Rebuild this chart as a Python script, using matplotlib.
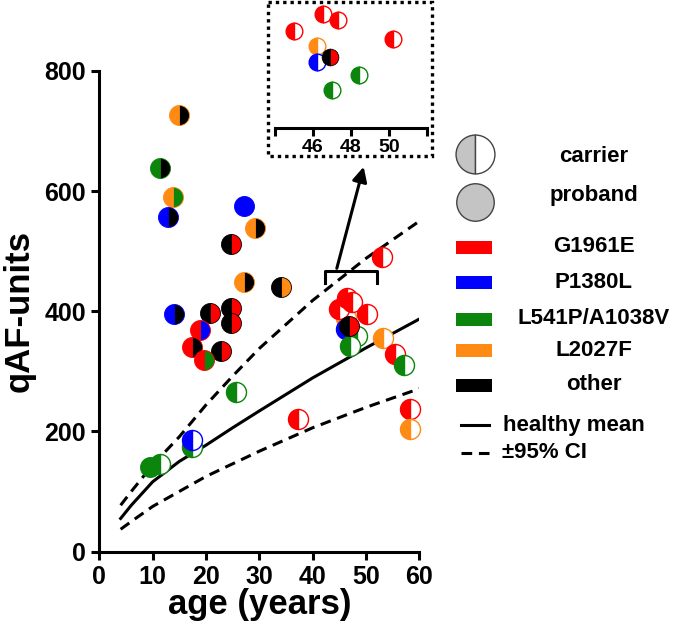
import matplotlib
matplotlib.use('Agg')
import matplotlib.pyplot as plt
from matplotlib.patches import Rectangle

plt.rcParams['font.family'] = ['Liberation Sans', 'DejaVu Sans']
plt.rcParams['font.weight'] = 'bold'

# mutation colours
mutations = ['G1961E', 'P1380L', 'L541P/A1038V', 'L2027F', 'other']
mut_colors = ['#ff0000', '#0000ff', '#0b850b', '#ff8a14', '#000000']
cmap = dict(zip(mutations, mut_colors))

# patients: left half / right half (None = carrier, white right half)
pt_age = [15.0, 11.4, 13.8, 12.8, 27.2, 29.2, 24.6, 27.1, 34.1, 14.0,
          20.8, 24.7, 24.7, 18.8, 17.3, 22.9, 19.7, 9.5, 11.4, 17.3,
          17.3, 25.6, 37.3, 53.0, 46.2, 45.0, 46.5, 47.3, 50.2, 46.2,
          48.4, 47.0, 46.9, 53.1, 55.5, 57.2, 58.2, 58.3]
pt_qaf = [727, 638, 590, 557, 576, 538, 512, 448, 441, 395,
          397, 405, 380, 368, 341, 334, 319, 141, 145, 174,
          186, 265, 220, 490, 388, 404, 422, 415, 395, 371,
          358, 342, 376, 355, 329, 311, 237, 204]
pt_left = ['L2027F', 'L541P/A1038V', 'L2027F', 'P1380L', 'P1380L', 'L2027F', 'other', 'L2027F', 'other', 'P1380L',
           'other', 'other', 'other', 'G1961E', 'G1961E', 'other', 'G1961E', 'L541P/A1038V', 'L541P/A1038V', 'L541P/A1038V',
           'P1380L', 'L541P/A1038V', 'G1961E', 'G1961E', 'L2027F', 'G1961E', 'G1961E', 'G1961E', 'G1961E', 'P1380L',
           'L541P/A1038V', 'L541P/A1038V', 'other', 'L2027F', 'G1961E', 'L541P/A1038V', 'G1961E', 'L2027F']
pt_right = ['other', 'other', 'L541P/A1038V', 'other', 'P1380L', 'other', 'G1961E', 'other', 'L2027F', 'other',
            'G1961E', 'G1961E', 'G1961E', 'P1380L', 'other', 'G1961E', 'L541P/A1038V', 'L541P/A1038V', None, None,
            None, None, None, None, None, None, None, None, None, None,
            None, None, 'G1961E', None, None, None, None, None]

# healthy reference curves
ref_age = [4, 6, 10, 15, 20, 25, 30, 40, 50, 60]
ref_mean = [55, 77, 116, 150, 177, 206, 234, 289, 339, 387]
ref_upper = [77, 100, 144, 191, 244, 292, 338, 418, 488, 550]
ref_lower = [37, 50, 75, 100, 125, 146, 167, 206, 240, 271]

zoom_range = (44, 52)
bracket_range = (42.3, 52.1)

W, H = 674, 635
fig = plt.figure(figsize=(W / 100, H / 100), dpi=100)


def draw_points(ax, ms, mask=None):
    for i in range(len(pt_age)):
        if mask is not None and not mask(pt_age[i]):
            continue
        left = cmap[pt_left[i]]
        if pt_right[i] is None:
            right, edge, lw = 'white', left, 1.0
        else:
            right, edge, lw = cmap[pt_right[i]], left, 0.6
        ax.plot(pt_age[i], pt_qaf[i], marker='o', ms=ms, fillstyle='left',
                markerfacecolor=left, markerfacecoloralt=right,
                markeredgecolor=edge, markeredgewidth=lw,
                linestyle='none', clip_on=False, zorder=3)


# main axes
ax = fig.add_axes([99.3 / W, (H - 551.5) / H, 320 / W, 480.5 / H])
ax.plot(ref_age, ref_mean, color='k', lw=2.2, zorder=2)
ax.plot(ref_age, ref_upper, color='k', lw=2.2, ls=(0, (3.5, 2.2)), zorder=2)
ax.plot(ref_age, ref_lower, color='k', lw=2.2, ls=(0, (3.5, 2.2)), zorder=2)
draw_points(ax, 14.4)

ax.set_xlim(0, 60)
ax.set_ylim(0, 800)
ax.set_xticks(range(0, 61, 10))
ax.set_yticks(range(0, 801, 200))
for s in ['top', 'right']:
    ax.spines[s].set_visible(False)
for s in ['left', 'bottom']:
    ax.spines[s].set_linewidth(2.2)
ax.tick_params(width=2.2, length=6, labelsize=18, direction='out')
ax.set_xlabel('age (years)', fontsize=25, fontweight='bold', va='top')
ax.set_ylabel('qAF-units', fontsize=25, fontweight='bold')
ax.xaxis.set_label_coords(0.5, -0.075)
ax.yaxis.set_label_coords(-0.2, 0.5)

# bracket + arrow to the zoom
b0, b1 = bracket_range
ax.plot([b0, b0, b1, b1], [447, 467, 467, 447], color='k', lw=2.2, clip_on=False)
ax.annotate('', xy=(49.7, 645), xytext=(44.4, 467),
            arrowprops=dict(arrowstyle='-|>', lw=2.2, color='k', mutation_scale=22),
            annotation_clip=False)

# inset
axi = fig.add_axes([275 / W, (H - 128) / H, 152 / W, 123 / H])
draw_points(axi, 12, mask=lambda a: 43.5 < a < 51)
axi.set_xlim(*zoom_range)
axi.set_ylim(302, 431)
axi.set_xticks(range(zoom_range[0], zoom_range[1] + 1, 2))
axi.set_xticklabels(['', '46', '48', '50', ''])
axi.set_yticks([])
for s in ['top', 'right', 'left']:
    axi.spines[s].set_visible(False)
axi.spines['bottom'].set_linewidth(2.2)
axi.tick_params(width=2.2, length=6, labelsize=14, pad=2)
axi.patch.set_alpha(0)

# overlay for box and legend (pixel coordinates)
ov = fig.add_axes([0, 0, 1, 1])
ov.set_xlim(0, W)
ov.set_ylim(H, 0)
ov.axis('off')
ov.patch.set_alpha(0)
ov.add_patch(Rectangle((268, 2), 164, 154, fill=False, lw=2.4, ls=(0, (1, 1.2)), ec='k'))

# legend
ov.plot(475, 154, marker='o', ms=28, fillstyle='left', markerfacecolor='#c4c4c4',
        markerfacecoloralt='white', markeredgecolor='#444444', markeredgewidth=1)
ov.plot(475, 202, marker='o', ms=27, markerfacecolor='#c4c4c4',
        markeredgecolor='#444444', markeredgewidth=1)
ov.text(594, 157, 'carrier', fontsize=16, fontweight='bold', ha='center', va='center')
ov.text(594, 196, 'proband', fontsize=16, fontweight='bold', ha='center', va='center')
leg_y = [247, 282, 319, 350, 385]
for m, c, y in zip(mutations, mut_colors, leg_y):
    ov.add_patch(Rectangle((456, y - 6.5), 36, 13, color=c, lw=0))
    ov.text(594, y, m, fontsize=16, fontweight='bold', ha='center', va='center')
ov.plot([461, 489], [425, 425], color='k', lw=2.2)
ov.plot([461, 489], [453, 453], color='k', lw=2.2, ls=(0, (3.5, 2.2)))
ov.text(503, 425, 'healthy mean', fontsize=16, fontweight='bold', va='center')
ov.text(502, 453, '\u00b195% CI', fontsize=16, fontweight='bold', va='center')

fig.savefig('out.png', dpi=100)
